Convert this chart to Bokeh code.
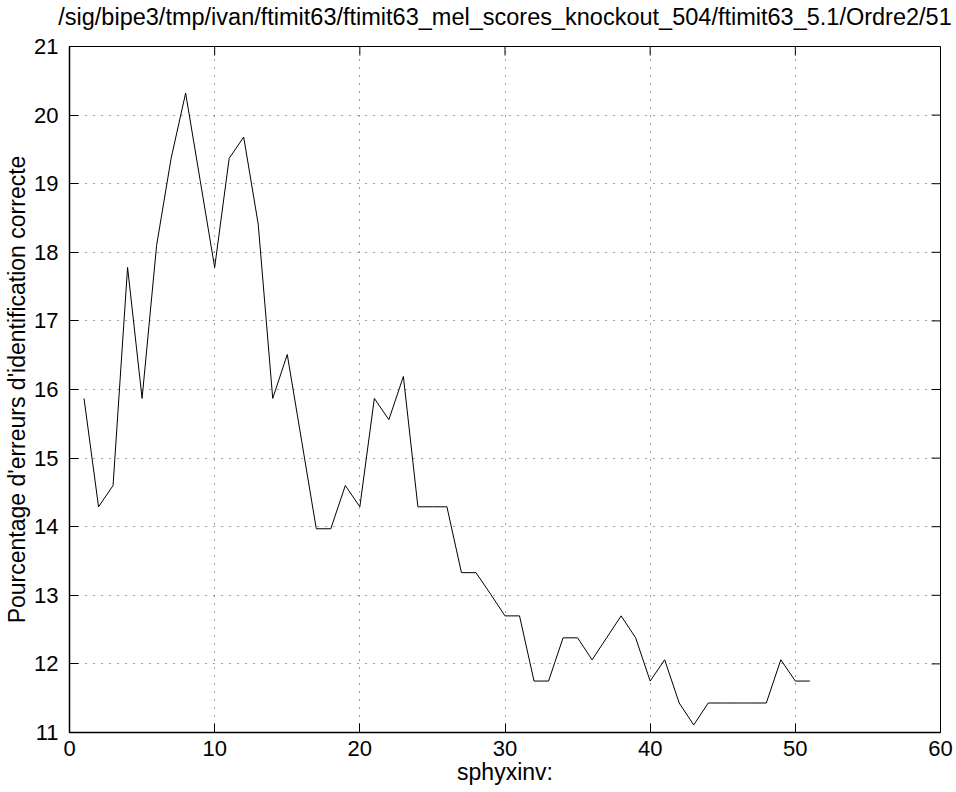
import math
from bokeh.plotting import figure
from bokeh.models import LinearAxis, FixedTicker, Range1d
from bokeh.embed import file_html
from bokeh.resources import INLINE

title_text = "/sig/bipe3/tmp/ivan/ftimit63/ftimit63_mel_scores_knockout_504/ftimit63_5.1/Ordre2/51"
x_label = "sphyxinv:"
y_label = "Pourcentage d'erreurs d'identification correcte"

x_vals = list(range(1, 52))
y_vals = [15.87, 14.29, 14.60, 17.78, 15.87, 18.10, 19.37, 20.32, 19.05, 17.78,
          19.37, 19.68, 18.41, 15.87, 16.51, 15.24, 13.97, 13.97, 14.60, 14.29,
          15.87, 15.56, 16.19, 14.29, 14.29, 14.29, 13.33, 13.33, 13.02, 12.70,
          12.70, 11.75, 11.75, 12.38, 12.38, 12.06, 12.38, 12.70, 12.38, 11.75,
          12.06, 11.43, 11.11, 11.43, 11.43, 11.43, 11.43, 11.43, 12.06, 11.75,
          11.75]

x_ticks = [0, 10, 20, 30, 40, 50, 60]
y_ticks = [11, 12, 13, 14, 15, 16, 17, 18, 19, 20, 21]
x_min, x_max = 0, 60
y_min, y_max = 11, 21

FONT = "Liberation Sans"

p = figure(width=956, height=792, output_backend="svg", toolbar_location=None,
           x_range=Range1d(x_min, x_max), y_range=Range1d(y_min, y_max),
           min_border_left=69, min_border_right=16, min_border_top=45, min_border_bottom=60,
           x_axis_location=None, y_axis_location=None)
p.background_fill_color = "white"
p.border_fill_color = "white"
p.outline_line_color = "black"
p.outline_line_width = 1

def make_axis():
    ax = LinearAxis()
    ax.major_tick_in = 9
    ax.major_tick_out = 0
    ax.minor_tick_line_color = None
    ax.axis_line_color = "black"
    ax.axis_line_width = 1.5
    ax.major_tick_line_color = "black"
    ax.major_label_text_font = FONT
    ax.major_label_text_color = "black"
    ax.major_label_text_font_size = "22px"
    ax.axis_label_text_font = FONT
    ax.axis_label_text_font_size = "23px"
    ax.axis_label_text_font_style = "normal"
    ax.axis_label_text_color = "black"
    return ax

xb = make_axis()
xb.ticker = FixedTicker(ticks=x_ticks)
xb.major_label_standoff = 8
xb.axis_label = x_label
xb.axis_label_standoff = 0
p.add_layout(xb, "below")

yl = make_axis()
yl.ticker = FixedTicker(ticks=y_ticks)
yl.major_label_standoff = 11
yl.axis_label = y_label
yl.axis_label_standoff = 1
p.add_layout(yl, "left")

# title carried by a tick-less axis above the box
xt = make_axis()
xt.ticker = FixedTicker(ticks=[])
xt.axis_line_color = None
xt.major_label_standoff = 0
xt.axis_label = title_text
xt.axis_label_text_font_size = "23.5px"
xt.axis_label_standoff = 17
p.add_layout(xt, "above")

# inward ticks on the top and right edges of the box
p.ray(x=x_ticks, y=[y_max] * len(x_ticks), length=9, length_units="screen",
      angle=-math.pi / 2, line_color="black", line_width=1)
p.ray(x=[x_max] * len(y_ticks), y=y_ticks, length=9, length_units="screen",
      angle=math.pi, line_color="black", line_width=1)

p.xgrid.ticker = FixedTicker(ticks=x_ticks)
p.ygrid.ticker = FixedTicker(ticks=y_ticks)
p.grid.grid_line_color = "#444444"
p.grid.grid_line_dash = "1 7"
p.grid.grid_line_width = 1

p.line(x_vals, y_vals, line_color="black", line_width=1)

open("out.html", "w").write(file_html(p, INLINE))
